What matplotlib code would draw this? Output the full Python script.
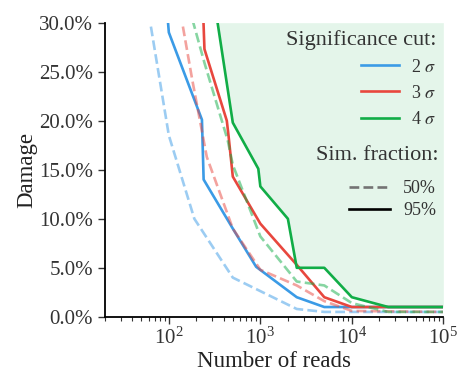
import numpy as np
import matplotlib
matplotlib.use("Agg")
import matplotlib.pyplot as plt
from matplotlib.lines import Line2D
from matplotlib.ticker import FuncFormatter, LogLocator

plt.rcParams['font.family'] = ['Liberation Serif', 'DejaVu Serif']
plt.rcParams['mathtext.fontset'] = 'stix'

# colours per significance cut
colors = {"2": "#3b9be6", "3": "#e8473e", "4": "#11ad47"}

# 95% simulation fraction (solid lines), damage in percent
reads_2s_95 = [96, 100, 230, 240, 500, 900, 2500, 5000, 100000]
dmg_2s_95 = [31.0, 29.0, 20.1, 14.0, 9.0, 5.1, 2.0, 1.0, 1.0]

reads_3s_95 = [235, 245, 430, 450, 500, 1000, 2500, 5000, 10000, 100000]
dmg_3s_95 = [32.0, 27.3, 20.0, 18.4, 14.3, 9.5, 5.3, 2.0, 1.0, 1.0]

reads_4s_95 = [300, 500, 950, 1000, 2000, 2500, 5000, 10000, 25000, 100000]
dmg_4s_95 = [33.4, 19.8, 15.1, 13.3, 10.0, 5.0, 5.0, 2.0, 1.0, 1.0]

# 50% simulation fraction (dashed lines)
reads_2s_50 = [55, 100, 190, 500, 2500, 5000, 100000]
dmg_2s_50 = [33.2, 18.5, 10.0, 4.0, 0.8, 0.5, 0.5]

reads_3s_50 = [125, 140, 180, 260, 500, 1000, 2500, 5000, 10000, 100000]
dmg_3s_50 = [32.6, 30.0, 24.2, 16.3, 9.0, 4.8, 3.2, 1.6, 0.6, 0.5]

reads_4s_50 = [165, 185, 245, 440, 500, 1000, 2500, 5000, 10000, 25000, 100000]
dmg_4s_50 = [31.7, 30.0, 25.9, 18.0, 15.5, 8.2, 3.6, 3.2, 1.4, 0.5, 0.5]

fig = plt.figure(figsize=(4.58, 3.71), dpi=100)
ax = fig.add_axes([0.229, 0.146, 0.739, 0.793])

ymax = 30
ax.fill_between(reads_4s_95, dmg_4s_95, ymax, color=colors["4"], alpha=0.11, lw=0)

lw = 1.9
for key, (x50, y50, x95, y95) in {
    "2": (reads_2s_50, dmg_2s_50, reads_2s_95, dmg_2s_95),
    "3": (reads_3s_50, dmg_3s_50, reads_3s_95, dmg_3s_95),
    "4": (reads_4s_50, dmg_4s_50, reads_4s_95, dmg_4s_95),
}.items():
    ax.plot(x50, y50, ls="--", color=colors[key], alpha=0.5, lw=lw)
    ax.plot(x95, y95, ls="-", color=colors[key], lw=lw)

ax.set_xscale("log")
ax.set_xlim(20, 1e5)
ax.set_ylim(0, ymax)
ax.set_yticks(np.arange(0, 31, 5))
ax.yaxis.set_major_formatter(FuncFormatter(lambda v, p: f"{v:.1f}%"))
ax.xaxis.set_major_locator(LogLocator(base=10))
ax.xaxis.set_minor_locator(LogLocator(base=10, subs=np.arange(2, 10)))

for s in ["top", "right"]:
    ax.spines[s].set_visible(False)
for s in ["left", "bottom"]:
    ax.spines[s].set_linewidth(1.3)
ax.tick_params(which="major", length=5, width=1.0, labelsize=15, colors="#333333")
ax.tick_params(which="minor", length=3, width=0.8, colors="#333333")
ax.tick_params(axis="x", pad=3)

ax.set_xlabel("Number of reads", fontsize=16.5, color="#222222", labelpad=1)
ax.set_ylabel("Damage", fontsize=16.5, color="#222222", labelpad=1)

# legends
sig_handles = [Line2D([], [], color=colors[k], lw=lw) for k in ["2", "3", "4"]]
sig_labels = [r"2 $\sigma$", r"3 $\sigma$", r"4 $\sigma$"]
leg1 = ax.legend(sig_handles, sig_labels, title="Significance cut:", loc="upper right",
                 bbox_to_anchor=(1.0, 1.0), frameon=False, fontsize=13,
                 title_fontsize=16, alignment="right", handlelength=2.15,
                 labelspacing=0.5, handletextpad=0.65, borderaxespad=0.0)
ax.add_artist(leg1)

frac_handles = [Line2D([], [], color="0.45", ls="--", lw=lw),
                Line2D([], [], color="black", ls="-", lw=lw)]
leg2 = ax.legend(frac_handles, ["50%", "95%"], loc="upper right",
                 bbox_to_anchor=(1.0, 0.49), frameon=False, fontsize=13,
                 handlelength=2.3, labelspacing=0.3, handletextpad=0.7,
                 borderaxespad=0.0)
for lg in (leg1, leg2):
    for t in lg.get_texts():
        t.set_color("#333333")
leg1.get_title().set_color("#333333")
ax.text(0.985, 0.55, "Sim. fraction:", transform=ax.transAxes, ha="right",
        va="center", fontsize=16, color="#333333")

fig.savefig("out.png", dpi=100)
